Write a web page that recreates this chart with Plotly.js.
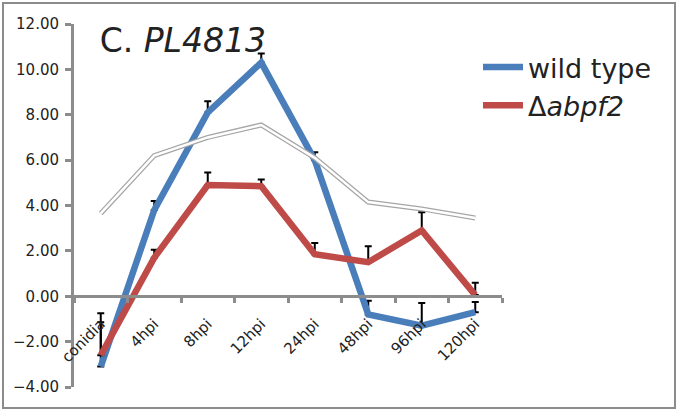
<!DOCTYPE html>
<html>
<head>
<meta charset="utf-8">
<script src="https://cdn.plot.ly/plotly-3.0.1.min.js"></script>
<style>
html,body{margin:0;padding:0;background:#fff;}
#chart{width:677px;height:413px;}
</style>
</head>
<body>
<div id="chart"></div>
<script>
var categories = ["conidia", "4hpi", "8hpi", "12hpi", "24hpi", "48hpi", "96hpi", "120hpi"];
var wildType = [-3.1, 3.8, 8.1, 10.3, 6.0, -0.8, -1.3, -0.7];
var wildTypeErr = [2.35, 0.4, 0.5, 0.4, 0.35, 0.6, 1.0, 0.45];
var abpf2 = [-2.6, 1.7, 4.9, 4.85, 1.85, 1.5, 2.9, 0.05];
var abpf2Err = [1.45, 0.35, 0.55, 0.3, 0.5, 0.7, 0.8, 0.55];
var outline = [3.65, 6.2, 7.0, 7.55, 6.1, 4.15, 3.85, 3.45];
var zeros = [0, 0, 0, 0, 0, 0, 0, 0];
var yTicks = [-4, -2, 0, 2, 4, 6, 8, 10, 12];

var font = "'DejaVu Sans', 'Open Sans', sans-serif";

var traces = [
  {
    x: categories, y: wildType, name: "wild type", type: "scatter", mode: "lines",
    line: {color: "#4a7ebb", width: 6.5},
    error_y: {type: "data", symmetric: false, array: wildTypeErr, arrayminus: zeros,
              color: "#000", thickness: 2, width: 3.5}
  },
  {
    x: categories, y: abpf2, name: "Δ<i>abpf2</i>", type: "scatter", mode: "lines",
    line: {color: "#be4b48", width: 6.5},
    error_y: {type: "data", symmetric: false, array: abpf2Err, arrayminus: zeros,
              color: "#000", thickness: 2, width: 3.5}
  },
  {
    x: categories, y: outline, type: "scatter", mode: "lines", showlegend: false,
    hoverinfo: "skip", line: {color: "#a6a6a6", width: 5}
  },
  {
    x: categories, y: outline, type: "scatter", mode: "lines", showlegend: false,
    hoverinfo: "skip", line: {color: "#ffffff", width: 2.5}
  }
];

var layout = {
  width: 677, height: 413,
  margin: {l: 74, r: 175, t: 24, b: 26},
  paper_bgcolor: "#fff", plot_bgcolor: "rgba(0,0,0,0)",
  font: {family: font, color: "#222", size: 15},
  showlegend: true,
  title: {
    text: "C. <i>PL4813</i>",
    font: {family: font, size: 33, color: "#222"},
    x: 0.06, xref: "paper", xanchor: "left",
    y: 0.955, yref: "paper", yanchor: "middle"
  },
  xaxis: {
    type: "category",
    range: [-0.5, 7.5],
    anchor: "free", position: 0.25,
    showline: true, linecolor: "#8c8c8c", linewidth: 3,
    showgrid: false, zeroline: false,
    ticks: "outside", tickson: "boundaries", ticklen: 5, tickwidth: 3, tickcolor: "#8c8c8c",
    tickangle: -45,
    ticklabelstandoff: 11,
    tickfont: {family: font, size: 15, color: "#222"},
    fixedrange: true
  },
  yaxis: {
    range: [-4, 12],
    tickvals: yTicks,
    tickformat: ".2f",
    showline: true, linecolor: "#8c8c8c", linewidth: 3,
    showgrid: false, zeroline: false,
    ticks: "outside", ticklen: 6, tickwidth: 3, tickcolor: "#8c8c8c",
    ticklabelstandoff: 3,
    tickfont: {family: font, size: 15, color: "#222"},
    fixedrange: true
  },
  legend: {
    x: (478 - 74) / 428, y: (387 - 43) / 363, xanchor: "left", yanchor: "top",
    font: {family: font, size: 27, color: "#222"},
    bgcolor: "rgba(0,0,0,0)",
    itemwidth: 40,
    traceorder: "normal"
  },
  shapes: [
    {type: "rect", xref: "paper", yref: "paper",
     x0: (3 - 74) / 428, x1: (675 - 74) / 428,
     y0: (387 - 408) / 363, y1: (387 - 3) / 363,
     line: {color: "#8c8c8c", width: 2}, fillcolor: "rgba(0,0,0,0)", layer: "below"}
  ]
};

Plotly.newPlot("chart", traces, layout, {displayModeBar: false, staticPlot: true});
</script>
</body>
</html>
